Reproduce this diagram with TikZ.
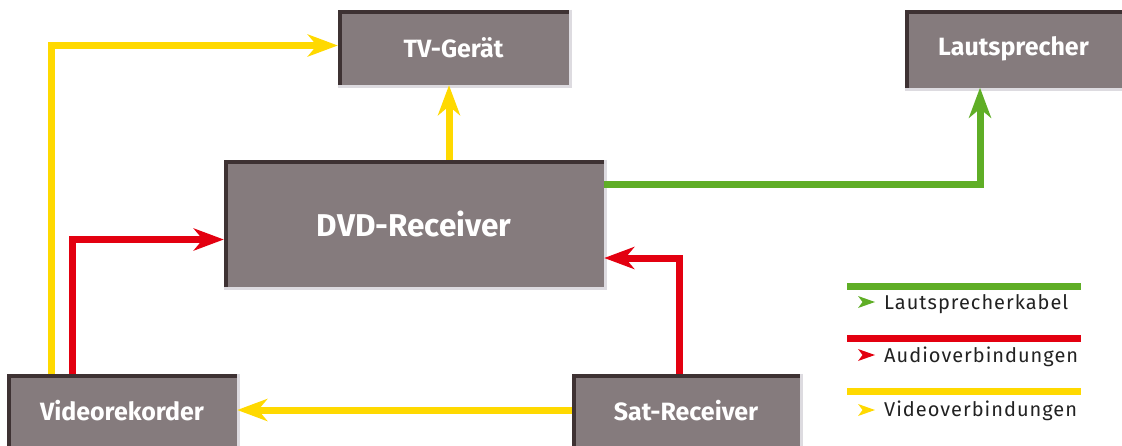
\documentclass[tikz,border=0pt]{standalone}
\usepackage{fontspec}
\setmainfont{Fira Sans}
\newfontfamily\legfont[LetterSpace=5]{Fira Sans}
\usetikzlibrary{arrows.meta,calc}
\definecolor{boxfill}{HTML}{857B7D}
\definecolor{boxdark}{HTML}{3E3233}
\definecolor{boxlight}{HTML}{DDDBE0}
\definecolor{vidyellow}{HTML}{FFD900}
\definecolor{audred}{HTML}{E30010}
\definecolor{lsgreen}{HTML}{5FAE26}
\definecolor{legtext}{HTML}{222222}
\tikzset{
  devbox/.style={fill=boxfill, inner sep=0pt, text=white, font=\bfseries\fontsize{25}{27}\selectfont},
  conn/.style={line width=7pt, -{Stealth[length=30pt,width=22pt,inset=9pt]}},
  vid/.style={conn, draw=vidyellow},
  aud/.style={conn, draw=audred},
  lsp/.style={conn, draw=lsgreen},
  legline/.style={line width=7pt},
  legtxt/.style={anchor=base west, inner sep=0pt, text=legtext, font=\legfont\fontsize{20}{22}\selectfont},
}
\begin{document}
\begin{tikzpicture}[x=1pt,y=-1pt]
\useasboundingbox[fill=white] (0,0) rectangle (1122,445);
% devices
\node[devbox, minimum width=231pt, minimum height=75pt] (tv) at (453.5,47.5) {TV-Gerät};
\node[devbox, minimum width=217pt, minimum height=77pt] (ls) at (1013.5,49) {Lautsprecher};
\node[devbox, minimum width=380pt, minimum height=127pt, font=\bfseries\fontsize{31.5}{33}\selectfont] (dvd) at (414,223.5) {DVD-Receiver};
\node[devbox, minimum width=230pt, minimum height=74pt] (vr) at (122,411) {Videorekorder};
\node[devbox, minimum width=228pt, minimum height=74pt] (sat) at (686,411) {Sat-Receiver};
\foreach \n in {tv,ls,dvd,vr,sat}{
  \draw[boxlight, line width=3pt] ([xshift=1.5pt]\n.north east) -- ([xshift=1.5pt,yshift=-1.5pt]\n.south east) -- ([yshift=-1.5pt]\n.south west);
  \draw[boxdark, line width=4pt] ([yshift=0pt]\n.south west) ++(2pt,0) -- ([xshift=2pt,yshift=-2pt]\n.north west) -- ([yshift=-2pt]\n.north east);
}
% connectors
\coordinate (lsin) at ([xshift=-33.5pt]ls.south);
\draw[vid] ([xshift=45pt]vr.north west) |- ([yshift=2pt]tv.west);
\draw[aud] ([xshift=66pt]vr.north west) |- ([yshift=-16pt]dvd.west);
\draw[vid] ([xshift=35pt]dvd.north) -- ([xshift=35pt]dvd.north |- tv.south);
\draw[lsp] ([yshift=39.5pt]dvd.east) -| (lsin);
\draw[aud] ([xshift=-7pt]sat.north) |- ([yshift=-34.5pt]dvd.east);
\draw[vid] ([yshift=1pt]sat.west) -- ([yshift=1pt]vr.east);
% legend
\draw[legline, lsgreen] (847,286) -- (1081,286);
\draw[legline, audred] (847,338) -- (1081,338);
\draw[legline, vidyellow] (847,391) -- (1081,391);
\fill[lsgreen] (858,296) -- (875,302) -- (858,308) -- (862.5,302) -- cycle;
\fill[audred] (858,349) -- (875,355) -- (858,361) -- (862.5,355) -- cycle;
\fill[vidyellow] (858,404) -- (875,410) -- (858,416) -- (862.5,410) -- cycle;
\node[legtxt] (l1) at (884,309) {Lautsprecherkabel};
\node[legtxt] (l2) at (884,362) {Audioverbindungen};
\node[legtxt] (l3) at (884,416) {Videoverbindungen};
\end{tikzpicture}
\end{document}
